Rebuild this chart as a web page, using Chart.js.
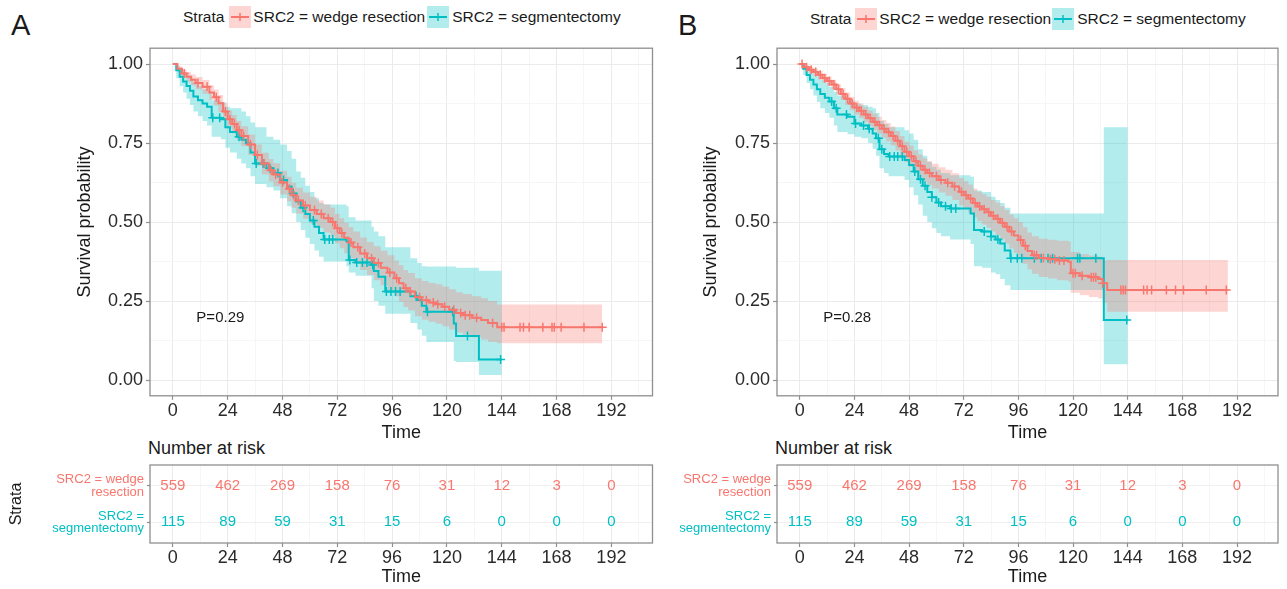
<!DOCTYPE html>
<html>
<head>
<meta charset="utf-8">
<script src="https://cdn.jsdelivr.net/npm/chart.js@4.4.0/dist/chart.umd.min.js"></script>
<style>
  body { margin:0; background:#fff; width:1287px; height:589px; position:relative; overflow:hidden;
         font-family:"Liberation Sans", Arial, Helvetica, sans-serif; color:#1a1a1a; }
  canvas { position:absolute; }
  .txt { position:absolute; white-space:nowrap; }
  .tag { font-size:29px; line-height:29px; }
  .nar { font-size:18px; line-height:21px; }
  .legend { position:absolute; display:flex; align-items:center; height:24px; font-size:15.5px; white-space:nowrap; }
  .key { width:22px; height:22px; }
</style>
</head>
<body>
<div class="txt tag" style="left:11px;top:11px">A</div>
<div class="txt tag" style="left:678px;top:11px">B</div>

<div class="legend" style="left:183px;top:5px">
  <span>Strata</span>
  <svg class="key" style="margin:0 2px 0 5px"><rect width="22" height="22" fill="rgba(248,118,109,0.3)"/><line x1="2" y1="11" x2="20" y2="11" stroke="#F8766D" stroke-width="2"/><line x1="11" y1="7" x2="11" y2="15" stroke="#F8766D" stroke-width="1.5"/></svg>
  <span>SRC2 = wedge resection</span>
  <svg class="key" style="margin:0 3px 0 2px"><rect width="22" height="22" fill="rgba(0,191,196,0.3)"/><line x1="2" y1="11" x2="20" y2="11" stroke="#00BFC4" stroke-width="2"/><line x1="11" y1="7" x2="11" y2="15" stroke="#00BFC4" stroke-width="1.5"/></svg>
  <span>SRC2 = segmentectomy</span>
</div>
<div class="legend" style="left:810px;top:7px">
  <span>Strata</span>
  <svg class="key" style="margin:0 2px 0 4px"><rect width="22" height="22" fill="rgba(248,118,109,0.3)"/><line x1="2" y1="11" x2="20" y2="11" stroke="#F8766D" stroke-width="2"/><line x1="11" y1="7" x2="11" y2="15" stroke="#F8766D" stroke-width="1.5"/></svg>
  <span>SRC2 = wedge resection</span>
  <svg class="key" style="margin:0 3px 0 1px"><rect width="22" height="22" fill="rgba(0,191,196,0.3)"/><line x1="2" y1="11" x2="20" y2="11" stroke="#00BFC4" stroke-width="2"/><line x1="11" y1="7" x2="11" y2="15" stroke="#00BFC4" stroke-width="1.5"/></svg>
  <span>SRC2 = segmentectomy</span>
</div>

<div class="txt nar" style="left:148px;top:438px">Number at risk</div>
<div class="txt nar" style="left:775px;top:438px">Number at risk</div>

<canvas id="kmA" width="600" height="411" style="left:60px;top:34px"></canvas>
<canvas id="kmB" width="600" height="411" style="left:687px;top:34px"></canvas>
<canvas id="riskA" width="660" height="140" style="left:0px;top:449px"></canvas>
<canvas id="riskB" width="660" height="140" style="left:627px;top:449px"></canvas>

<script>
// ---------- panel A : wedge resection (red) ----------
const aWedgeT  = [0,2,4,6,8,10,13,16,18,20,22,24,26,28,30,33,36,39,42,44,47,50,52,54,57,60,63,66,69,71,73,75,77,79,82,85,88,91,94,97,99,101,103,106,109,112,115,118,121,124,127,131,135,138,142,188]
const aWedgeS  = [1,.985,.97,.96,.95,.94,.928,.91,.895,.876,.85,.825,.81,.79,.772,.745,.712,.685,.664,.65,.625,.605,.585,.568,.552,.538,.525,.512,.5,.48,.465,.45,.435,.42,.4,.385,.37,.355,.34,.322,.306,.29,.28,.262,.252,.245,.24,.232,.222,.212,.205,.197,.19,.18,.167,.167]
const aWedgeUp = [1,.993,.982,.975,.967,.959,.949,.933,.919,.902,.877,.853,.839,.82,.803,.777,.745,.719,.699,.686,.662,.643,.624,.608,.593,.58,.568,.556,.545,.526,.512,.498,.484,.47,.451,.437,.423,.409,.395,.378,.363,.348,.339,.322,.313,.307,.303,.296,.287,.278,.272,.265,.259,.25,.239,.239]
const aWedgeLo = [1,.975,.957,.944,.932,.92,.906,.886,.869,.849,.822,.796,.78,.759,.74,.712,.678,.65,.628,.613,.587,.566,.545,.527,.51,.495,.481,.467,.454,.433,.417,.401,.385,.369,.348,.332,.316,.3,.284,.265,.248,.231,.22,.202,.191,.184,.178,.17,.16,.15,.143,.135,.128,.12,.116,.116]
const aWedgeCensT = [5,11,15,19,23,25,27,29,31,34,37,40,43,45,48,51,53,55,58,62,65,68,70,72,74,78,81,84,87,90,95,98,102,104,108,111,114,116,119,123,126,128,130,133,140,144,145,152,153.5,156,162,166,167,170,180,188]
const aWedgeCensS = [.97,.94,.928,.895,.85,.825,.81,.79,.772,.745,.712,.685,.664,.65,.625,.605,.585,.568,.552,.538,.525,.512,.5,.48,.465,.435,.42,.4,.385,.37,.34,.322,.29,.28,.262,.252,.245,.24,.232,.222,.212,.205,.205,.197,.18,.167,.167,.167,.167,.167,.167,.167,.167,.167,.167,.167]

// ---------- panel A : segmentectomy (teal) ----------
const aSegT  = [0,1.5,3,4.5,6,7.5,9,11,13,15,17,21,23,25,28,30,32,34,36,41,44,47,50,52,54,56,58,60,62,64,66,76,77,80,87,88,90,93,104,107,109,111,122,123,124,134,144]
const aSegS  = [1,.98,.96,.945,.93,.915,.897,.885,.875,.865,.83,.825,.8,.785,.77,.76,.749,.72,.685,.67,.655,.633,.612,.59,.565,.545,.525,.505,.485,.465,.445,.438,.38,.372,.364,.345,.327,.28,.265,.253,.235,.216,.216,.179,.139,.065,.065]
const aSegUp = [1,.995,.985,.975,.965,.955,.94,.93,.92,.912,.885,.88,.865,.86,.86,.85,.835,.815,.8,.77,.76,.745,.725,.7,.66,.64,.615,.595,.575,.56,.555,.55,.515,.505,.485,.47,.455,.42,.385,.37,.36,.359,.359,.359,.355,.346,.346]
const aSegLo = [1,.955,.93,.91,.89,.87,.85,.835,.82,.805,.77,.762,.735,.72,.7,.685,.67,.645,.62,.61,.6,.575,.55,.528,.5,.475,.45,.43,.41,.39,.375,.36,.34,.33,.29,.25,.235,.21,.18,.16,.14,.12,.12,.06,.057,.016,.016]
const aSegCensT = [17.5,20.5,29,36.5,39.5,42.5,46,48.5,52.7,57,61.5,66.5,68.5,70,77.5,80.5,83,85,87.5,93.5,95.5,97.5,99.5,106.5,111.5,122.5,129,143.5]
const aSegCensS = [.83,.83,.77,.685,.685,.67,.655,.633,.59,.545,.505,.445,.445,.445,.38,.372,.372,.372,.364,.28,.28,.28,.28,.265,.216,.216,.139,.065]

// ---------- panel B : wedge resection (red) ----------
const bWedgeT  = [0,2,4,6,8,10,12,14,16,18,20,22,24,26,28,30,32,34,36,38,40,42,44,46,48,50,52,54,56,58,61,64,67,70,72,74,76,78,80,82,84,86,88,90,92,94,96,98,100,102,105,109,113,118,119,123,127,131,133,135,188]
const bWedgeS  = [1,.99,.982,.975,.966,.955,.946,.935,.92,.905,.89,.875,.862,.852,.84,.828,.817,.806,.795,.784,.772,.757,.74,.722,.708,.692,.678,.665,.655,.645,.633,.624,.612,.596,.585,.574,.56,.549,.54,.531,.52,.51,.498,.485,.47,.457,.443,.425,.408,.395,.386,.382,.378,.374,.338,.33,.325,.32,.306,.285,.285]
const bWedgeUp = [1,.996,.99,.985,.978,.968,.96,.95,.937,.924,.91,.896,.884,.875,.864,.853,.843,.833,.823,.813,.802,.788,.772,.755,.742,.727,.714,.702,.693,.684,.673,.665,.654,.639,.629,.619,.606,.596,.588,.58,.57,.561,.55,.538,.524,.512,.5,.483,.467,.455,.447,.444,.441,.438,.405,.398,.394,.39,.378,.38,.38]
const bWedgeLo = [1,.982,.972,.963,.952,.94,.93,.918,.902,.886,.87,.854,.84,.829,.816,.803,.791,.779,.767,.755,.742,.726,.708,.689,.674,.657,.642,.628,.617,.606,.593,.583,.57,.553,.541,.529,.514,.502,.492,.482,.47,.459,.446,.432,.416,.402,.387,.368,.35,.336,.326,.321,.316,.311,.276,.268,.263,.258,.244,.216,.216]
const bWedgeCensT = [1,3,5,7,9,11,13,15,17,19,21,23,25,27,29,31,33,35,37,39,41,43,45,47,49,51,53,55,57,60,62,65,68,71,73,75,77,79,81,83,85,87,89,91,93,97,99,103,104,107,110,112,114,116,120,121,124,128,129,130,133,141,142,143,151,152.5,154.5,161,165,168.5,178.5,187.3]
const bWedgeCensS = [1,.99,.982,.975,.966,.955,.946,.935,.92,.905,.89,.875,.862,.852,.84,.828,.817,.806,.795,.784,.772,.757,.74,.722,.708,.692,.678,.665,.655,.645,.633,.624,.612,.596,.585,.574,.56,.549,.54,.531,.52,.51,.498,.485,.47,.443,.425,.395,.395,.386,.382,.382,.378,.378,.338,.338,.33,.325,.325,.325,.306,.285,.285,.285,.285,.285,.285,.285,.285,.285,.285,.285]

// ---------- panel B : segmentectomy (teal) ----------
const bSegT  = [0,1.5,3,4.5,6,7.5,9,11,13,15,16.5,21,24,27,30,32,33.5,35,37,39,46,48,50,52,54,56,58,60,62,66,75,76.5,80,84,86,88,90,92.5,133.5,144]
const bSegS  = [1,.985,.965,.95,.935,.92,.905,.893,.881,.86,.84,.833,.812,.805,.795,.78,.765,.73,.715,.707,.696,.68,.66,.635,.615,.595,.578,.562,.55,.543,.527,.475,.47,.454,.445,.432,.41,.385,.19,.19]
const bSegUp = [1,.997,.985,.978,.97,.962,.95,.94,.928,.912,.9,.885,.875,.87,.865,.86,.845,.82,.81,.8,.79,.78,.76,.73,.71,.69,.675,.665,.655,.648,.643,.6,.595,.58,.57,.56,.545,.527,.8,.8]
const bSegLo = [1,.965,.94,.92,.9,.88,.86,.845,.83,.805,.785,.778,.77,.765,.75,.732,.71,.67,.655,.645,.633,.61,.585,.555,.52,.5,.48,.465,.455,.445,.43,.36,.355,.34,.335,.32,.3,.285,.05,.05]
const bSegCensT = [14,16,20.5,24.5,28,30.5,34.5,36,39.5,41.5,43,45,50.5,53,55,58,61,64,66.5,68.5,81,84,87,92.7,95.5,97.5,103,106,109,111,122,123,130,143.6]
const bSegCensS = [.881,.86,.84,.812,.805,.795,.765,.73,.707,.707,.707,.707,.66,.635,.615,.578,.562,.55,.543,.543,.47,.454,.445,.385,.385,.385,.385,.385,.385,.385,.385,.385,.385,.19]

// ---------- number at risk (same in both panels) ----------
const riskTimes = [0,24,48,72,96,120,144,168,192]
const riskWedge = [559,462,269,158,76,31,12,3,0]
const riskSeg   = [115,89,59,31,15,6,0,0,0]

// ---------- axis ticks ----------
const timeTicks = [0,24,48,72,96,120,144,168,192]
const survTicks = [0,0.25,0.5,0.75,1]
const strataNames = { 2: ['SRC2 = wedge', 'resection'], 1: ['SRC2 =', 'segmentectomy'] }

const RED = '#F8766D', TEAL = '#00BFC4'
const RED_BAND = 'rgba(248,118,109,0.3)', TEAL_BAND = 'rgba(0,191,196,0.3)'
const FONT = '"Liberation Sans", Arial, Helvetica, sans-serif'
const TXT = '#2b2b2b'

// grid lines at every half tick step (ggplot minor breaks)
const timeGrid = []
for (let t = 0; t <= 204; t += 12) timeGrid.push(t)
const survGrid = []
for (let s = 0; s <= 1; s += 0.125) survGrid.push(s)

function pts(xs, ys){ return xs.map((x, i) => ({x: x, y: ys[i]})) }

Chart.register({
    id: 'frame',
    afterDraw(chart){
        const {ctx, chartArea: a} = chart
        ctx.save()
        ctx.strokeStyle = '#8f8f8f'
        ctx.lineWidth = 1.3
        ctx.strokeRect(a.left, a.top, a.width, a.height)
        ctx.restore()
    }
})

Chart.register({
    id: 'pval',
    afterDatasetsDraw(chart, args, opts){
        if (!opts || !opts.text) return
        const ctx = chart.ctx
        ctx.save()
        ctx.font = '15px ' + FONT
        ctx.fillStyle = '#1a1a1a'
        ctx.textAlign = 'left'
        ctx.textBaseline = 'middle'
        ctx.fillText(opts.text, chart.scales.x.getPixelForValue(opts.x), chart.scales.y.getPixelForValue(opts.y))
        ctx.restore()
    }
})

Chart.register({
    id: 'riskLabels',
    afterDatasetsDraw(chart){
        const ctx = chart.ctx
        chart.data.datasets.forEach((ds, i) => {
            if (!ds.counts) return
            const meta = chart.getDatasetMeta(i)
            ctx.save()
            ctx.font = '15px ' + FONT
            ctx.fillStyle = ds.textColor
            ctx.textAlign = 'center'
            ctx.textBaseline = 'middle'
            meta.data.forEach((p, j) => ctx.fillText(String(ds.counts[j]), p.x, p.y))
            ctx.restore()
        })
    }
})

const isMajorT = v => timeTicks.includes(v)
const isMajorS = v => survTicks.includes(v)

function xAxis(height){
    return {
        type: 'linear', min: -10, max: 210, bounds: 'data',
        afterBuildTicks: s => { s.ticks = timeGrid.map(v => ({value: v})) },
        afterFit: s => { s.height = height },
        ticks: { autoSkip: false, maxRotation: 0, padding: 0, color: TXT,
                 font: {family: FONT, size: 18}, callback: v => isMajorT(v) ? String(v) : '' },
        grid: { color: c => isMajorT(c.tick.value) ? '#EBEBEB' : '#F4F4F4',
                lineWidth: c => isMajorT(c.tick.value) ? 1 : 0.8,
                tickLength: 4, tickWidth: 1.2,
                tickColor: c => isMajorT(c.tick.value) ? '#8f8f8f' : 'rgba(0,0,0,0)' },
        border: { display: false },
        title: { display: true, text: 'Time', color: '#1a1a1a', font: {family: FONT, size: 18},
                 padding: {top: 0, bottom: 0.7} }
    }
}

function kmChart(id, d){
    return new Chart(document.getElementById(id), {
        type: 'line',
        data: { datasets: [
            { data: pts(d.redCensT, d.redCensS), showLine: false, pointStyle: 'cross', pointRadius: 4.5,
              borderColor: RED, borderWidth: 1.5 },
            { data: pts(d.redT, d.redS), stepped: true, borderColor: RED, borderWidth: 2, pointRadius: 0, fill: false },
            { data: pts(d.segCensT, d.segCensS), showLine: false, pointStyle: 'cross', pointRadius: 4.5,
              borderColor: TEAL, borderWidth: 1.5 },
            { data: pts(d.segT, d.segS), stepped: true, borderColor: TEAL, borderWidth: 2, pointRadius: 0, fill: false },
            { data: pts(d.redT, d.redUp), stepped: true, borderWidth: 0, borderColor: 'rgba(0,0,0,0)', pointRadius: 0, fill: false },
            { data: pts(d.redT, d.redLo), stepped: true, borderWidth: 0, borderColor: 'rgba(0,0,0,0)', pointRadius: 0,
              fill: '-1', backgroundColor: RED_BAND },
            { data: pts(d.segT, d.segUp), stepped: true, borderWidth: 0, borderColor: 'rgba(0,0,0,0)', pointRadius: 0, fill: false },
            { data: pts(d.segT, d.segLo), stepped: true, borderWidth: 0, borderColor: 'rgba(0,0,0,0)', pointRadius: 0,
              fill: '-1', backgroundColor: TEAL_BAND }
        ]},
        options: {
            responsive: false, animation: false, events: [], devicePixelRatio: 1,
            layout: { padding: {top: 14.2, right: d.padRight, left: 0, bottom: 0} },
            plugins: { legend: {display: false}, tooltip: {enabled: false},
                       pval: { text: d.pText, x: 10.3, y: 0.196 } },
            scales: {
                x: xAxis(49.2),
                y: {
                    min: -0.05, max: 1.05, bounds: 'data',
                    afterBuildTicks: s => { s.ticks = survGrid.map(v => ({value: v})) },
                    afterFit: s => { s.width = 90 },
                    ticks: { padding: 3, color: TXT, font: {family: FONT, size: 18},
                             callback: v => isMajorS(v) ? v.toFixed(2) : '' },
                    grid: { color: c => isMajorS(c.tick.value) ? '#EBEBEB' : '#F4F4F4',
                            lineWidth: c => isMajorS(c.tick.value) ? 1 : 0.8,
                            tickLength: 4, tickWidth: 1.2,
                            tickColor: c => isMajorS(c.tick.value) ? '#8f8f8f' : 'rgba(0,0,0,0)' },
                    border: { display: false },
                    title: { display: true, text: 'Survival probability', color: '#1a1a1a',
                             font: {family: FONT, size: 18}, padding: {top: d.titlePad, bottom: 0} }
                }
            }
        }
    })
}

function riskChart(id, showTitle, padRight){
    return new Chart(document.getElementById(id), {
        type: 'line',
        data: { datasets: [
            { data: riskTimes.map(t => ({x: t, y: 2})), counts: riskWedge, textColor: RED, showLine: false, pointRadius: 0 },
            { data: riskTimes.map(t => ({x: t, y: 1})), counts: riskSeg, textColor: TEAL, showLine: false, pointRadius: 0 }
        ]},
        options: {
            responsive: false, animation: false, events: [], devicePixelRatio: 1,
            layout: { padding: {top: 16, right: padRight, left: 0, bottom: 0} },
            plugins: { legend: {display: false}, tooltip: {enabled: false} },
            scales: {
                x: xAxis(46),
                y: {
                    min: 0.43, max: 2.57, bounds: 'data',
                    afterBuildTicks: s => { s.ticks = [{value: 1}, {value: 2}] },
                    afterFit: s => { s.width = 150 },
                    ticks: { padding: 3, font: {family: FONT, size: 13, lineHeight: 0.96},
                             color: c => c.tick.value === 2 ? RED : TEAL,
                             callback: v => strataNames[v] || '' },
                    grid: { color: '#F0F0F0', lineWidth: 1, tickLength: 3, tickWidth: 1.2, tickColor: '#8f8f8f' },
                    border: { display: false },
                    title: { display: showTitle, text: 'Strata', color: '#1a1a1a',
                             font: {family: FONT, size: 16}, padding: {top: 7.1, bottom: 0} }
                }
            }
        }
    })
}

kmChart('kmA', {
    redT: aWedgeT, redS: aWedgeS, redUp: aWedgeUp, redLo: aWedgeLo, redCensT: aWedgeCensT, redCensS: aWedgeCensS,
    segT: aSegT, segS: aSegS, segUp: aSegUp, segLo: aSegLo, segCensT: aSegCensT, segCensS: aSegCensS,
    pText: 'P=0.29', padRight: 7.5, titlePad: 14.7
})
kmChart('kmB', {
    redT: bWedgeT, redS: bWedgeS, redUp: bWedgeUp, redLo: bWedgeLo, redCensT: bWedgeCensT, redCensS: bWedgeCensS,
    segT: bSegT, segS: bSegS, segUp: bSegUp, segLo: bSegLo, segCensT: bSegCensT, segCensS: bSegCensS,
    pText: 'P=0.28', padRight: 9, titlePad: 13.2
})
riskChart('riskA', true, 7.5)
riskChart('riskB', false, 9)
</script>
</body>
</html>
